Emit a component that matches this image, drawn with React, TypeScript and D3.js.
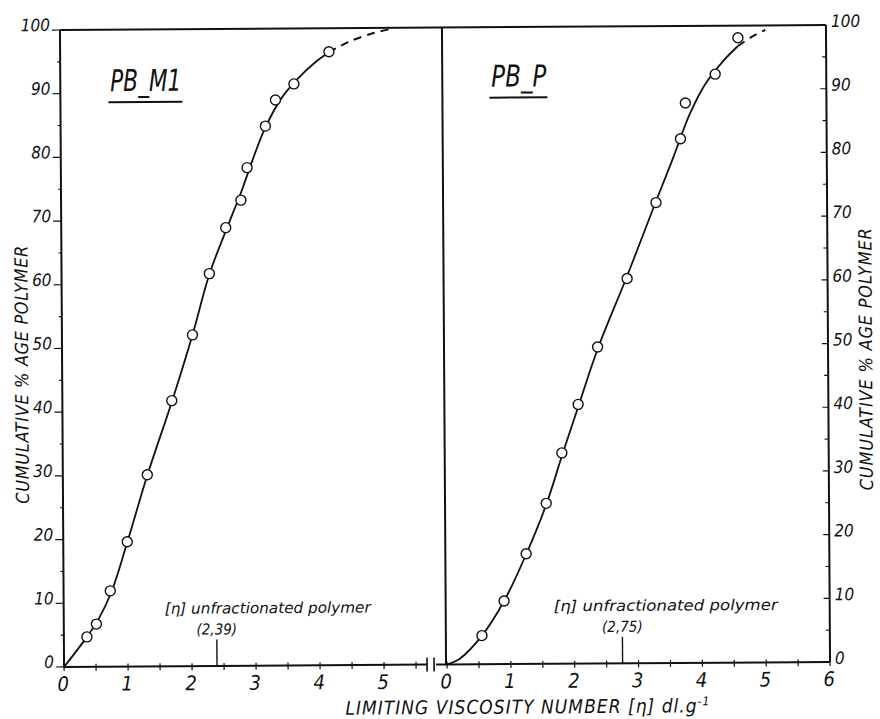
import React, { useEffect, useRef } from 'react';
import * as d3 from 'd3';

// PB_M1 fractions: limiting viscosity number vs cumulative % polymer
const pbM1X = [0.36, 0.51, 0.73, 1.0, 1.32, 1.71, 2.04, 2.31, 2.57, 2.81, 2.91, 3.2, 3.36, 3.65, 4.2];
const pbM1Y = [4.7, 6.7, 11.9, 19.6, 30.1, 41.7, 52.0, 61.6, 68.8, 73.1, 78.2, 84.7, 88.8, 91.3, 96.3];
// hand drawn curve through the PB_M1 points
const pbM1CurveX = [0, 0.36, 0.55, 0.75, 1.0, 1.32, 1.71, 2.04, 2.31, 2.6, 2.82, 3.0, 3.2, 3.45, 3.7, 4.0, 4.2];
const pbM1CurveY = [0, 4.7, 7.6, 11.8, 19.5, 30, 41.5, 52, 61.5, 69, 74.5, 79.5, 84.5, 89, 92, 94.8, 96.2];
const pbM1DashX = [4.2, 4.5, 4.9, 5.2];
const pbM1DashY = [96.2, 97.8, 99.2, 99.9];

// PB_P fractions
const pbPX = [0.55, 0.9, 1.25, 1.57, 1.82, 2.08, 2.39, 2.86, 3.32, 3.71, 3.79, 4.26, 4.62];
const pbPY = [4.5, 9.9, 17.3, 25.2, 33.1, 40.7, 49.7, 60.4, 72.3, 82.3, 87.9, 92.4, 98.1];
const pbPCurveX = [0, 0.2, 0.55, 0.9, 1.25, 1.57, 1.82, 2.08, 2.4, 2.86, 3.3, 3.6, 3.85, 4.1, 4.4, 4.62];
const pbPCurveY = [0, 0.9, 4.5, 9.9, 17.2, 25, 32.6, 40.3, 49.6, 60.8, 72, 79.5, 86, 90.8, 94.6, 96.8];
const pbPDashX = [4.62, 4.85, 5.05];
const pbPDashY = [96.8, 98.3, 99.3];

const yTicks = [0, 10, 20, 30, 40, 50, 60, 70, 80, 90, 100];
const leftXTicks = [0, 1, 2, 3, 4, 5];
const rightXTicks = [0, 1, 2, 3, 4, 5, 6];

// [eta] of the unfractionated polymers
const pbM1Eta = 2.39;
const pbPEta = 2.75;
const pbM1EtaLabel = '(2,39)';
const pbPEtaLabel = '(2,75)';

const FONT = "'Liberation Sans Narrow', 'DejaVu Sans Condensed', 'DejaVu Sans', sans-serif";

const App = () => {
  const ref = useRef<SVGSVGElement>(null);

  useEffect(() => {
    const root = d3.select(ref.current);
    root.selectAll('*').remove();

    // the scanned figure is very slightly rotated
    const g = root.append('g').attr('transform', 'rotate(-0.37,445,346)');

    const xL = d3.scaleLinear().domain([0, 5]).range([62, 382]);
    const xR = d3.scaleLinear().domain([0, 6]).range([445, 828]);
    const y = d3.scaleLinear().domain([0, 100]).range([664.5, 27.5]);
    const y0 = y(0);
    const yTop = y(100);
    const xMid = 444;

    const ink = '#111';

    // frame
    g.append('line').attr('x1', xL(0)).attr('x2', xR(6)).attr('y1', yTop).attr('y2', yTop)
      .attr('stroke', ink).attr('stroke-width', 2);
    g.append('line').attr('x1', xL(0)).attr('x2', xL(0)).attr('y1', yTop).attr('y2', y0)
      .attr('stroke', ink).attr('stroke-width', 2);
    g.append('line').attr('x1', xMid).attr('x2', xMid).attr('y1', yTop).attr('y2', y0)
      .attr('stroke', ink).attr('stroke-width', 2);
    g.append('line').attr('x1', xR(6)).attr('x2', xR(6)).attr('y1', yTop).attr('y2', y0)
      .attr('stroke', ink).attr('stroke-width', 2);

    // bottom axis left, with break marks
    g.append('line').attr('x1', xL(0)).attr('x2', 425).attr('y1', y0).attr('y2', y0)
      .attr('stroke', ink).attr('stroke-width', 2);
    [425, 432].forEach((bx) => {
      g.append('line').attr('x1', bx).attr('x2', bx).attr('y1', y0 - 7).attr('y2', y0 + 7)
        .attr('stroke', ink).attr('stroke-width', 1.6);
    });
    g.append('line').attr('x1', 434).attr('x2', xR(0)).attr('y1', y0).attr('y2', y0)
      .attr('stroke', ink).attr('stroke-width', 2);
    g.append('line').attr('x1', xR(0)).attr('x2', xR(6)).attr('y1', y0).attr('y2', y0)
      .attr('stroke', ink).attr('stroke-width', 2);

    // x ticks every 0.5
    const halfL = d3.range(0, 5.6, 0.5);
    const halfR = d3.range(0, 6.1, 0.5);
    halfL.forEach((t) => {
      g.append('line').attr('x1', xL(t)).attr('x2', xL(t)).attr('y1', y0 - 3).attr('y2', y0 + 4)
        .attr('stroke', ink).attr('stroke-width', 1.2);
    });
    halfR.forEach((t) => {
      g.append('line').attr('x1', xR(t)).attr('x2', xR(t)).attr('y1', y0 - 3).attr('y2', y0 + 4)
        .attr('stroke', ink).attr('stroke-width', 1.2);
    });

    // x tick labels
    const tickStyle = (sel: any) => sel
      .attr('font-family', FONT).attr('font-style', 'italic').attr('fill', ink);
    leftXTicks.forEach((t) => {
      tickStyle(g.append('text')).attr('x', xL(t) - 1).attr('y', y0 + 24)
        .attr('text-anchor', 'middle').attr('font-size', 20).text(t);
    });
    rightXTicks.forEach((t) => {
      tickStyle(g.append('text')).attr('x', xR(t) - 1).attr('y', y0 + 24)
        .attr('text-anchor', 'middle').attr('font-size', 20).text(t);
    });

    // y ticks, left (outward) and right (inward)
    const minorY = d3.range(5, 100, 10);
    yTicks.forEach((t) => {
      g.append('line').attr('x1', xL(0) - 8).attr('x2', xL(0)).attr('y1', y(t)).attr('y2', y(t))
        .attr('stroke', ink).attr('stroke-width', 1.2);
      g.append('line').attr('x1', xR(6) - 6).attr('x2', xR(6)).attr('y1', y(t)).attr('y2', y(t))
        .attr('stroke', ink).attr('stroke-width', 1.2);
      tickStyle(g.append('text')).attr('x', xL(0) - 10).attr('y', y(t) + 1)
        .attr('text-anchor', 'end').attr('font-size', 17).text(t);
      tickStyle(g.append('text')).attr('x', xR(6) + 5).attr('y', y(t) + 2)
        .attr('text-anchor', 'start').attr('font-size', 17).text(t);
    });
    minorY.forEach((t) => {
      g.append('line').attr('x1', xL(0) - 3).attr('x2', xL(0)).attr('y1', y(t)).attr('y2', y(t))
        .attr('stroke', ink).attr('stroke-width', 1.1);
      g.append('line').attr('x1', xR(6) - 4).attr('x2', xR(6)).attr('y1', y(t)).attr('y2', y(t))
        .attr('stroke', ink).attr('stroke-width', 1.1);
    });

    // curves
    const drawCurve = (xs: number[], ys: number[], xs2: number[], ys2: number[], sx: any) => {
      const line = d3.line<number>().x((d, i) => sx(xs[i])).y((d, i) => y(ys[i]))
        .curve(d3.curveCatmullRom.alpha(0.5));
      g.append('path').attr('d', line(xs)).attr('fill', 'none').attr('stroke', ink).attr('stroke-width', 1.8);
      const dash = d3.line<number>().x((d, i) => sx(xs2[i])).y((d, i) => y(ys2[i]))
        .curve(d3.curveCatmullRom.alpha(0.5));
      g.append('path').attr('d', dash(xs2)).attr('fill', 'none').attr('stroke', ink)
        .attr('stroke-width', 2).attr('stroke-dasharray', '8,6');
    };
    drawCurve(pbM1CurveX, pbM1CurveY, pbM1DashX, pbM1DashY, xL);
    drawCurve(pbPCurveX, pbPCurveY, pbPDashX, pbPDashY, xR);

    // open circle markers
    const drawPoints = (xs: number[], ys: number[], sx: any) => {
      g.selectAll(null)
        .data(xs)
        .enter()
        .append('circle')
        .attr('cx', (d) => sx(d))
        .attr('cy', (d, i) => y(ys[i]))
        .attr('r', 5)
        .attr('fill', '#fff')
        .attr('stroke', ink)
        .attr('stroke-width', 1.4);
    };
    drawPoints(pbM1X, pbM1Y, xL);
    drawPoints(pbPX, pbPY, xR);

    // panel labels, underlined
    const panelLabel = (label: string, x: number, yy: number, w: number) => {
      g.append('text').attr('x', x).attr('y', yy)
        .attr('font-family', FONT).attr('font-style', 'italic').attr('font-size', 30).attr('fill', ink)
        .attr('textLength', w).attr('lengthAdjust', 'spacingAndGlyphs').text(label);
      g.append('line').attr('x1', x - 2).attr('x2', x + w + 1).attr('y1', yy + 11).attr('y2', yy + 11)
        .attr('stroke', ink).attr('stroke-width', 2);
    };
    panelLabel('PB_M1', 112, 89, 71);
    panelLabel('PB_P', 493, 87, 55);

    // unfractionated polymer markers
    const etaNote = (sx: any, eta: number, label: string, x0: number, w: number) => {
      g.append('text').attr('x', x0).attr('y', 612)
        .attr('font-family', FONT).attr('font-style', 'italic').attr('font-size', 15).attr('fill', ink)
        .attr('textLength', w).attr('lengthAdjust', 'spacingAndGlyphs')
        .text('[η] unfractionated polymer');
      g.append('text').attr('x', sx(eta)).attr('y', 633)
        .attr('font-family', FONT).attr('font-style', 'italic').attr('font-size', 15).attr('fill', ink)
        .attr('text-anchor', 'middle').text(label);
      g.append('line').attr('x1', sx(eta)).attr('x2', sx(eta)).attr('y1', 638).attr('y2', y0)
        .attr('stroke', ink).attr('stroke-width', 1.4);
    };
    etaNote(xL, pbM1Eta, pbM1EtaLabel, 163, 206);
    etaNote(xR, pbPEta, pbPEtaLabel, 552, 224);

    // axis titles
    const xt = g.append('text').attr('x', 343).attr('y', 714)
      .attr('font-family', FONT).attr('font-style', 'italic').attr('font-size', 19).attr('fill', ink)
      .attr('textLength', 364).attr('lengthAdjust', 'spacing');
    xt.append('tspan').text('LIMITING  VISCOSITY  NUMBER  [η] dl.g');
    xt.append('tspan').attr('dy', -7).attr('font-size', 12).text('-1');

    const yTitle = (cx: number, cy: number, w: number) => {
      g.append('text').attr('transform', `translate(${cx},${cy}) rotate(-90)`)
        .attr('text-anchor', 'middle').attr('dy', 6)
        .attr('font-family', FONT).attr('font-style', 'italic').attr('font-size', 18).attr('fill', ink)
        .attr('textLength', w).attr('lengthAdjust', 'spacing')
        .text('CUMULATIVE  % AGE  POLYMER');
    };
    yTitle(22, 372, 258);
    yTitle(866, 362, 262);
  }, []);

  return (
    <svg ref={ref} width={880} height={719}
      style={{ position: 'absolute', left: 0, top: 0, background: '#fff' }} />
  );
};

export default App;
